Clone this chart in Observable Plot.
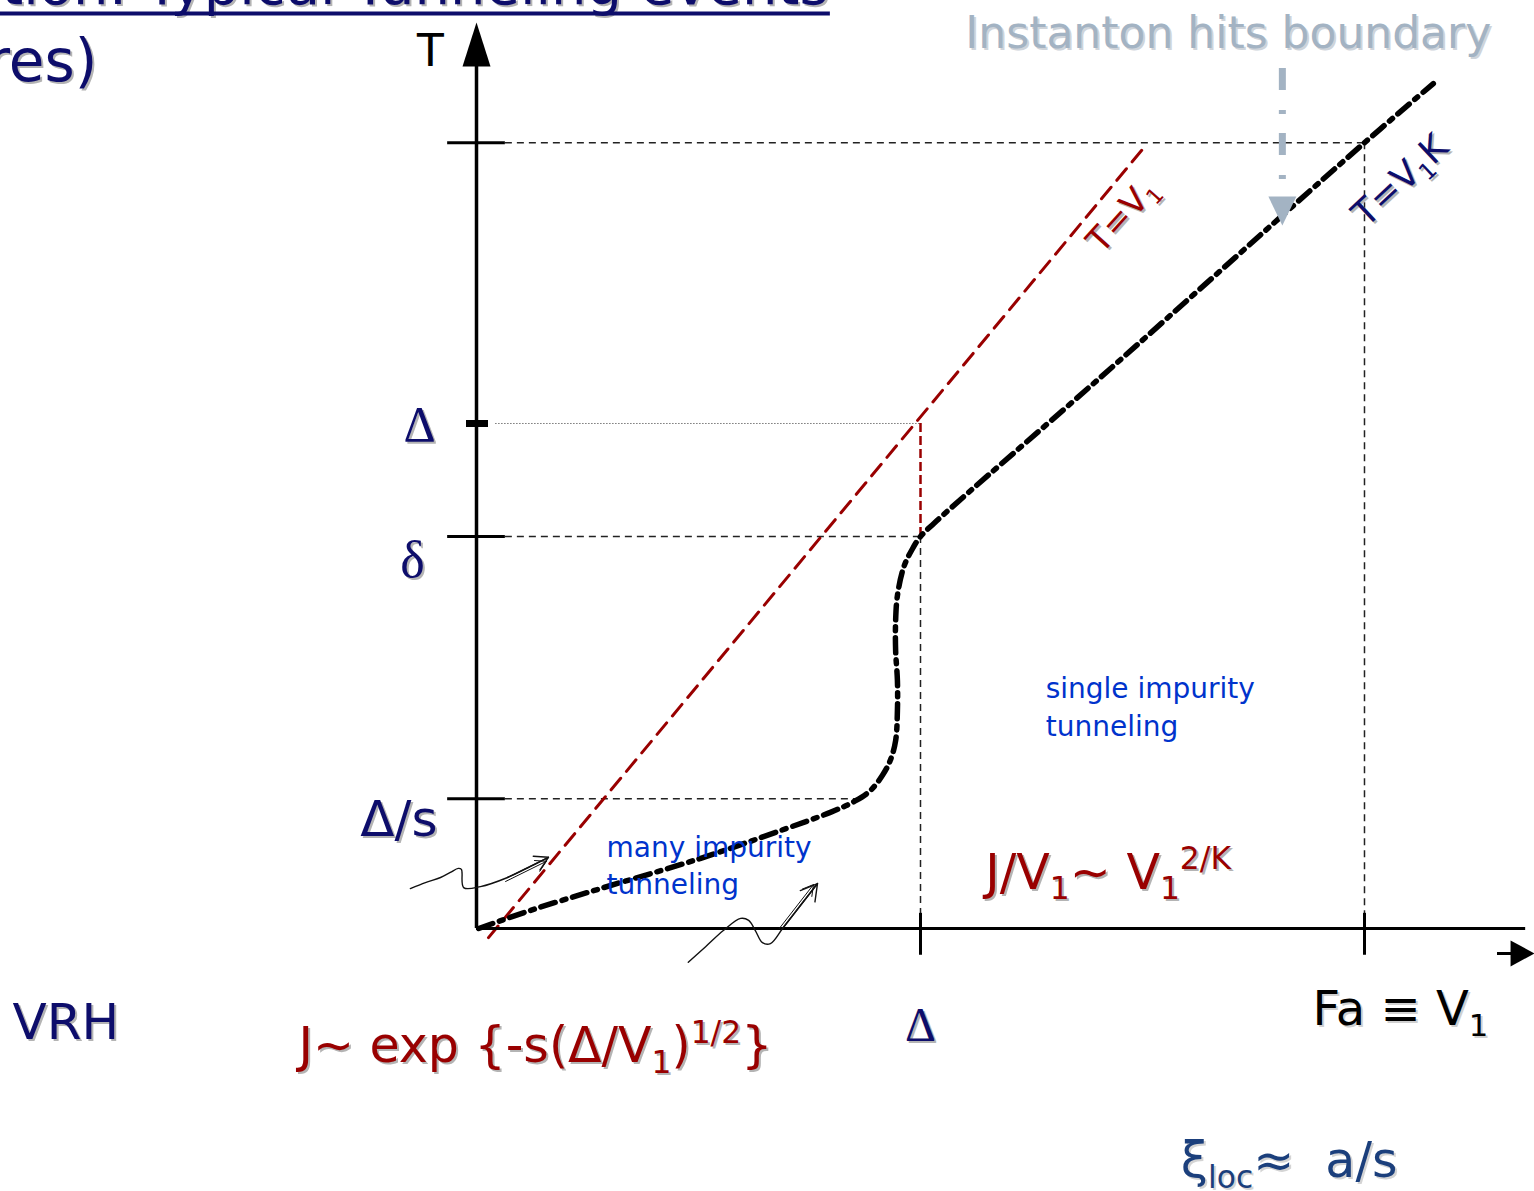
<!DOCTYPE html>
<html>
<head>
<meta charset="utf-8">
<script src="https://cdn.jsdelivr.net/npm/d3@7"></script>
<script src="https://cdn.jsdelivr.net/npm/@observablehq/plot@0.6"></script>
<style>
  html, body { margin: 0; padding: 0; background: #fff; }
  svg { display: block; }
</style>
</head>
<body>
<div id="chart"></div>
<script>
// Temperature levels marked on the T axis (units of Δ)
const tTickLabels = ["Δ/s", "δ", "Δ", ""];
const tTickValues = [0.257, 0.776, 1.0, 1.556];

// Field values marked on the V₁ axis (units of Δ)
const vTickLabels = ["Δ", ""];
const vTickValues = [1.0, 2.0];

// Axis extents
const axisTopT = 1.794;
const axisEndV = 2.363;

// Crossover line between regimes (dash-dot curve)
const crossoverV = [0.005, 0.122, 0.279, 0.505, 0.685, 0.797, 0.854, 0.887, 0.914, 0.932, 0.944, 0.948, 0.948, 0.944, 0.944, 0.948, 0.962, 0.982, 1.000, 1.045, 1.405, 2.000, 2.155];
const crossoverT = [0.000, 0.036, 0.079, 0.139, 0.194, 0.230, 0.253, 0.273, 0.303, 0.333, 0.372, 0.432, 0.491, 0.550, 0.610, 0.659, 0.715, 0.752, 0.776, 0.814, 1.091, 1.556, 1.673];

// T = V₁ line
const diagonalV = [0.027, 1.502];
const diagonalT = [-0.018, 1.545];

// Hand-drawn wavy arrows (tunneling events)
const wave1V = [-0.149, -0.115, -0.081, -0.059, -0.041, -0.034, -0.029, 0.009, 0.070, 0.122, 0.162];
const wave1T = [0.079, 0.091, 0.101, 0.111, 0.119, 0.117, 0.081, 0.083, 0.101, 0.123, 0.141];
const wave2V = [0.477, 0.516, 0.556, 0.595, 0.613, 0.628, 0.644, 0.662, 0.691, 0.730, 0.768];
const wave2T = [-0.067, -0.036, -0.004, 0.020, 0.016, -0.004, -0.028, -0.030, 0.002, 0.046, 0.089];

// "Instanton hits boundary" pointer
const instantonV = 1.815;
const instantonT = [1.703, 1.392];

// Text annotations: [text, V, T]
const titleLines = [["Classification: Typical Tunneling events", 0.793, 1.830], ["(low temperatures)", -0.854, 1.679]];
const regimeLabels = [["single impurity\ntunneling", 1.282, 0.382], ["many impurity\ntunneling", 0.293, 0.069]];
const formulaLabels = [["J/V_{1}∼ V_{1}^{2/K}", 1.146, 0.079], ["J∼ exp {-s(Δ/V_{1})^{1/2}}", -0.401, -0.265]];
const sideLabels = [["VRH", -1.045, -0.218], ["ξ_{loc}≈\u00a0\u00a0a/s", 1.586, -0.493]];
const lineLabels = [["T=V_{1}", 1.455, 1.412], ["T=V_{1}K", 2.081, 1.481]];

// ---------------------------------------------------------------
const navy = "#0d0d6b";
const wine = "#990000";
const blue = "#0033cc";
const slate = "#a3b3c3";
const shadow = "#b4b4b4";
const comic = "'Comic Sans MS', 'DejaVu Sans', sans-serif";
const serif = "'Liberation Serif', 'DejaVu Serif', serif";
const sans = "'Liberation Sans', Arial, sans-serif";

const pts = (V, T) => V.map((v, i) => ({v, t: T[i]}));
const rows = (list) => list.map(([text, v, t]) => ({text, v, t}));

// Filled arrowheads as custom symbols (tip at the anchor point)
const headUp = {draw(c) { c.moveTo(0, 0); c.lineTo(14, 44); c.lineTo(-14, 44); c.closePath(); }};
const headRight = {draw(c) { c.moveTo(0, 0); c.lineTo(-24, -13); c.lineTo(-24, 13); c.closePath(); }};
const headDown = {draw(c) { c.moveTo(0, 0); c.lineTo(-14, -29); c.lineTo(14, -29); c.closePath(); }};

// Text with an optional offset drop shadow
function label(data, options, shade) {
  const base = {x: "v", y: "t", text: "text", lineAnchor: "bottom", textAnchor: "start", ...options};
  const out = [];
  if (shade) out.push(Plot.text(data, {...base, fill: shade, dx: (base.dx || 0) + 2, dy: (base.dy || 0) + 2}));
  out.push(Plot.text(data, base));
  return out;
}

const tTicks = tTickValues.map((t, i) => ({t, label: tTickLabels[i]}));
const vTicks = vTickValues.map((v, i) => ({v, label: vTickLabels[i]}));
const [tLow, tDelta, tGap, tTop] = tTickValues;
const [vGap, vTop] = vTickValues;

const plot = Plot.plot({
  width: 1534,
  height: 1191,
  margin: 0,
  x: {domain: [-1.0721, 2.3829], axis: null},
  y: {domain: [-0.5208, 1.8376], axis: null},
  style: {background: "#fff", overflow: "visible"},
  marks: [
    // title fragments
    ...label([rows(titleLines)[0]], {fontFamily: comic, fontSize: 56, fill: navy, textAnchor: "end"}, shadow),
    Plot.ruleY([titleLines[0][2] - 0.018], {x1: -1.0721, x2: 0.797, stroke: navy, strokeWidth: 4}),
    ...label([rows(titleLines)[1]], {fontFamily: comic, fontSize: 58, fill: navy, textAnchor: "end"}, shadow),

    // guide lines
    Plot.ruleY([tTop], {x1: 0.065, x2: vTop, stroke: "#222", strokeWidth: 1.5, strokeDasharray: "7,5"}),
    Plot.ruleY([tGap], {x1: 0.043, x2: vGap, stroke: "#777", strokeWidth: 1, strokeDasharray: "1.5,1.5"}),
    Plot.ruleY([tDelta], {x1: 0.065, x2: vGap, stroke: "#222", strokeWidth: 1.5, strokeDasharray: "7,5"}),
    Plot.ruleY([tLow], {x1: 0.065, x2: 0.854, stroke: "#222", strokeWidth: 1.5, strokeDasharray: "7,5"}),
    Plot.ruleX([vGap], {y1: tDelta, y2: 0, stroke: "#222", strokeWidth: 1.5, strokeDasharray: "7,5"}),
    Plot.ruleX([vTop], {y1: tTop, y2: 0, stroke: "#222", strokeWidth: 1.5, strokeDasharray: "7,5"}),
    Plot.ruleX([vGap], {y1: tGap, y2: tDelta, stroke: wine, strokeWidth: 2.5, strokeDasharray: "9,4"}),

    // T = V₁
    Plot.line(pts(diagonalV, diagonalT), {x: "v", y: "t", stroke: wine, strokeWidth: 3, strokeDasharray: "15,9"}),

    // axes
    Plot.ruleX([0], {y1: 0, y2: axisTopT - 0.06, stroke: "#000", strokeWidth: 3.5}),
    Plot.dot([{v: 0, t: axisTopT}], {x: "v", y: "t", symbol: headUp, fill: "#000", stroke: "none", r: 10}),
    Plot.ruleY([0], {x1: 0, x2: axisEndV, stroke: "#000", strokeWidth: 3}),
    Plot.ruleY([-0.0495], {x1: 2.2995, x2: 2.34, stroke: "#000", strokeWidth: 3}),
    Plot.dot([{v: 2.383, t: -0.0495}], {x: "v", y: "t", symbol: headRight, fill: "#000", stroke: "none", r: 10}),

    // ticks
    Plot.ruleY(tTicks.filter(d => d.t !== tGap), {y: "t", x1: -0.065, x2: 0.065, stroke: "#000", strokeWidth: 3}),
    Plot.ruleY(tTicks.filter(d => d.t === tGap), {y: "t", x1: -0.0225, x2: 0.027, stroke: "#000", strokeWidth: 7}),
    Plot.ruleX(vTicks, {x: "v", y1: -0.053, y2: 0.03, stroke: "#000", strokeWidth: 3}),

    // crossover curve
    Plot.line(pts(crossoverV, crossoverT), {x: "v", y: "t", stroke: "#000", strokeWidth: 5.5, strokeDasharray: "15,7,4,7", curve: "catmull-rom"}),

    // wavy tunneling arrows
    Plot.line(pts(wave1V, wave1T), {x: "v", y: "t", stroke: "#111", strokeWidth: 1.4, curve: "catmull-rom"}),
    Plot.arrow([{v1: wave1V[8], t1: wave1T[8], v2: wave1V[10], t2: wave1T[10]}], {x1: "v1", y1: "t1", x2: "v2", y2: "t2", stroke: "#111", strokeWidth: 1.4, headLength: 22}),
    Plot.arrow([{v1: wave1V[8], t1: wave1T[8], v2: wave1V[10], t2: wave1T[10]}], {x1: "v1", y1: "t1", x2: "v2", y2: "t2", stroke: "#111", strokeWidth: 1, headLength: 18, dx: -2, dy: 4}),
    Plot.line(pts(wave2V, wave2T), {x: "v", y: "t", stroke: "#111", strokeWidth: 1.4, curve: "catmull-rom"}),
    Plot.arrow([{v1: wave2V[8], t1: wave2T[8], v2: wave2V[10], t2: wave2T[10]}], {x1: "v1", y1: "t1", x2: "v2", y2: "t2", stroke: "#111", strokeWidth: 1.4, headLength: 22}),
    Plot.arrow([{v1: wave2V[8], t1: wave2T[8], v2: wave2V[10], t2: wave2T[10]}], {x1: "v1", y1: "t1", x2: "v2", y2: "t2", stroke: "#111", strokeWidth: 1, headLength: 18, dx: -4, dy: 1}),

    // instanton pointer
    Plot.ruleX([instantonV], {y1: instantonT[0], y2: instantonT[1] + 0.06, stroke: slate, strokeWidth: 7, strokeDasharray: "22,20,4,19"}),
    Plot.dot([{v: instantonV, t: instantonT[1]}], {x: "v", y: "t", symbol: headDown, fill: slate, stroke: "none", r: 10}),
    ...label([{text: "Instanton hits boundary", v: 1.101, t: 1.743}], {fontFamily: comic, fontSize: 44, fill: slate}, "#cfd4da"),

    // tick labels
    Plot.text([{text: "T", v: -0.104, t: 1.707}], {x: "v", y: "t", text: "text", fontFamily: sans, fontSize: 48, fill: "#000", lineAnchor: "bottom"}),
    ...label([{text: tTickLabels[2], v: -0.128, t: 0.966}], {fontFamily: serif, fontSize: 50, fill: navy, textAnchor: "middle"}, shadow),
    ...label([{text: tTickLabels[1], v: -0.144, t: 0.697}], {fontFamily: serif, fontSize: 52, fill: navy, textAnchor: "middle"}, shadow),
    ...label([{text: tTickLabels[0], v: -0.088, t: 0.184}], {fontFamily: comic, fontSize: 50, fill: navy, textAnchor: "end"}, shadow),
    ...label([{text: vTickLabels[0], v: 1.0, t: -0.222}], {fontFamily: serif, fontSize: 48, fill: navy, textAnchor: "middle"}, shadow),
    ...label([{text: "Fa ≡ V_{1}", v: 1.883, t: -0.192}], {fontFamily: comic, fontSize: 48, fill: "#000"}, "#d0d0d0"),

    // line labels
    ...label([rows(lineLabels)[0]], {fontFamily: comic, fontSize: 34, fill: wine, textAnchor: "middle", lineAnchor: "middle", rotate: -48}, shadow),
    ...label([rows(lineLabels)[1]], {fontFamily: comic, fontSize: 36, fill: navy, textAnchor: "middle", lineAnchor: "middle", rotate: -43}, shadow),

    // regime labels
    Plot.text([rows(regimeLabels)[0]], {x: "v", y: "t", text: "text", fontFamily: comic, fontSize: 28, fill: blue, lineAnchor: "bottom", textAnchor: "start", lineHeight: 1.35}),
    Plot.text([rows(regimeLabels)[1]], {x: "v", y: "t", text: "text", fontFamily: comic, fontSize: 28, fill: blue, lineAnchor: "bottom", textAnchor: "start", lineHeight: 1.3}),

    // formulas
    ...label([rows(formulaLabels)[0]], {fontFamily: comic, fontSize: 49, fill: wine}, shadow),
    ...label([rows(formulaLabels)[1]], {fontFamily: comic, fontSize: 49, fill: wine}, shadow),
    ...label([rows(sideLabels)[0]], {fontFamily: comic, fontSize: 50, fill: navy}, shadow),
    ...label([rows(sideLabels)[1]], {fontFamily: comic, fontSize: 49, fill: "#1b3f7c"}, "#d4d4d4")
  ]
});

document.getElementById("chart").appendChild(plot);

// Render _{...} as subscripts and ^{...} as superscripts
function applyScripts(svg) {
  svg.querySelectorAll("text, tspan").forEach(node => {
    if (node.children.length) return;
    const src = node.textContent;
    if (!/[_^]\{/.test(src)) return;
    const fs = parseFloat(getComputedStyle(node).fontSize) || 40;
    node.textContent = "";
    let offset = 0;
    const re = /([_^])\{([^}]*)\}|([^_^]+)/g;
    let m;
    while ((m = re.exec(src))) {
      const ts = document.createElementNS("http://www.w3.org/2000/svg", "tspan");
      const target = m[1] === "_" ? 0.22 * fs : m[1] === "^" ? -0.4 * fs : 0;
      if (target !== offset) ts.setAttribute("dy", target - offset);
      offset = target;
      if (m[1]) ts.setAttribute("font-size", 0.64 * fs);
      ts.textContent = m[1] ? m[2] : m[3];
      node.appendChild(ts);
    }
  });
}
applyScripts(plot);
</script>
</body>
</html>
